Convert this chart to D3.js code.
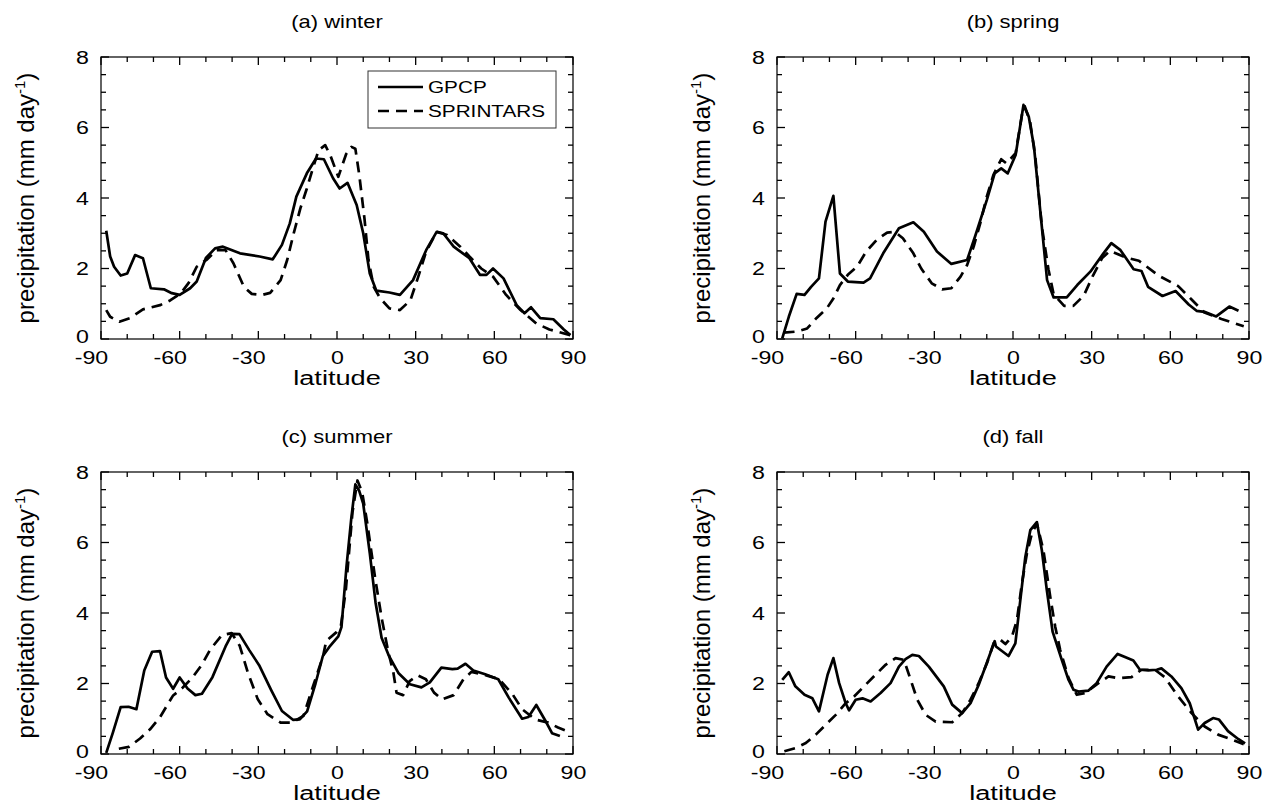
<!DOCTYPE html>
<html><head><meta charset="utf-8">
<script src="https://cdn.jsdelivr.net/npm/d3@7"></script>
<style>body{margin:0;background:#fff}svg{display:block}text{font-family:"Liberation Sans",Arial,Helvetica,sans-serif;fill:#000}</style>
</head><body><svg id="c" width="1275" height="803"></svg>
<script>
// ---------------- data (latitude, mm/day) ----------------
const xTicks = [-90,-60,-30,0,30,60,90];
const yTicks = [0,2,4,6,8];
const panelTitles = ["(a) winter","(b) spring","(c) summer","(d) fall"];
const seriesNames = ["GPCP","SPRINTARS"];

const winterGpcpLat = [-88,-86.5,-85,-82.5,-80,-77,-74,-71,-66,-63,-60,-56,-53.5,-50,-46.5,-43.5,-37,-29.5,-24.5,-21,-18,-15.5,-11.5,-8,-5,-1.5,1,4,7.5,10,12.5,15,20,24,29,34,38,40.5,44.5,50.5,54.5,57,59.5,63.5,68.5,71.5,74,77.5,82.5,86.5,89];
const winterGpcp    = [3.07,2.34,2.05,1.8,1.86,2.38,2.29,1.44,1.41,1.3,1.25,1.44,1.63,2.3,2.57,2.62,2.43,2.34,2.26,2.67,3.28,4.04,4.7,5.12,5.1,4.56,4.27,4.43,3.8,3.0,1.86,1.37,1.32,1.25,1.67,2.52,3.04,3.0,2.62,2.29,1.82,1.82,2.0,1.72,0.96,0.73,0.9,0.59,0.56,0.27,0.11];
const winterSprLat  = [-88,-86.5,-83,-79,-74,-67.5,-63.5,-59.5,-56.5,-53.5,-49.5,-46,-42.5,-39.5,-35.5,-32.5,-28.5,-25.5,-21.5,-19,-16.5,-14,-11.5,-9,-7,-4.5,-2.5,0.5,3.5,5.5,7,8.5,10.5,12,14,16.5,20,24,28,31,34,38,42,47,50.5,55,59.5,64.5,70,76,81,89];
const winterSpr     = [0.82,0.63,0.49,0.59,0.84,0.96,1.1,1.3,1.6,2.05,2.26,2.52,2.52,2.15,1.48,1.28,1.25,1.31,1.67,2.24,3.0,3.7,4.27,4.89,5.36,5.5,5.2,4.6,5.25,5.45,5.4,4.65,3.4,2.24,1.48,1.15,0.87,0.82,1.1,1.77,2.48,3.04,2.95,2.62,2.34,2.0,1.77,1.25,0.82,0.44,0.27,0.11];

const springGpcpLat = [-88,-85.5,-82.5,-79.5,-77,-74,-71.5,-68.5,-66,-63,-57,-54.5,-49.5,-43.5,-38,-34,-29,-23.5,-17.5,-14.5,-10,-7,-4.5,-2,1,2.5,4,6,8,10.5,13,15.5,20.5,24.5,29.5,34.5,37.5,41,46,49,51.5,57,62,67,70,73,77.5,82.5,86];
const springGpcp    = [0.02,0.63,1.28,1.25,1.48,1.72,3.33,4.06,1.86,1.63,1.6,1.72,2.43,3.14,3.31,3.04,2.48,2.13,2.24,2.9,3.94,4.7,4.84,4.7,5.22,5.93,6.64,6.31,5.46,3.56,1.67,1.18,1.18,1.53,1.91,2.43,2.72,2.52,1.98,1.93,1.48,1.22,1.36,0.98,0.8,0.77,0.64,0.92,0.8];
const springSprLat  = [-87.5,-82.5,-78.5,-75,-71,-68.5,-66,-63,-59.5,-56,-52,-48,-45,-42,-38,-35,-31,-27,-23.5,-20,-17.5,-15,-12.5,-10,-7.5,-4.5,-2.5,1,3.5,4.5,6.5,8.5,11,13.5,15.5,19.5,23,27,30.5,34,37,43,48,55.5,63,68,73,79.5,88];
const springSpr     = [0.18,0.21,0.3,0.59,0.87,1.15,1.53,1.82,2.05,2.48,2.81,3.02,3.04,2.86,2.43,2.0,1.58,1.41,1.44,1.77,2.1,2.62,3.28,4.04,4.65,5.1,4.98,5.27,6.4,6.6,6.17,5.17,3.19,1.98,1.27,0.94,0.94,1.23,1.8,2.3,2.5,2.31,2.22,1.8,1.5,1.13,0.75,0.57,0.36];

const summerGpcpLat = [-88,-85.5,-82.5,-79.5,-76.5,-73.5,-70.5,-67.5,-65.2,-62.5,-60,-57,-54,-51.5,-47.5,-42.5,-40,-37.2,-33.4,-29.7,-25,-21,-16.8,-14.2,-11.4,-8.2,-5.4,-3,0.5,1.7,3.6,5.4,7,8.5,10,12.5,14.7,17,19.7,23.4,27.8,32.2,35.4,39.8,44,46,49,52,56.5,61.5,65.5,70.6,73,76,79.2,82,85];
const summerGpcp    = [0.03,0.6,1.33,1.34,1.27,2.37,2.9,2.92,2.17,1.85,2.17,1.86,1.67,1.71,2.18,3.05,3.41,3.4,2.94,2.52,1.8,1.22,0.97,0.98,1.21,2.0,2.78,3.03,3.34,3.6,5.3,6.65,7.65,7.46,7.1,5.7,4.3,3.3,2.8,2.3,1.98,1.89,2.03,2.45,2.41,2.42,2.56,2.37,2.26,2.12,1.6,1.0,1.05,1.39,0.98,0.59,0.51];
const summerSprLat  = [-83.2,-79.4,-75.1,-71.3,-67.6,-62.6,-58.9,-55.1,-51.4,-48.3,-43.9,-40.2,-37.1,-34,-30.2,-26.5,-21.5,-17.1,-12.8,-9.1,-5.3,-4.1,-0.3,1.5,3.4,5.9,7.8,9.6,11.5,14.6,17.1,19.6,21.5,22.7,25.2,27.7,30.8,33.9,37,40.1,44.5,48.2,51.3,57,61.9,66.9,70.6,75.6,80.6,84.3,88];
const summerSpr     = [0.15,0.2,0.44,0.7,1.03,1.65,1.88,2.17,2.55,2.97,3.37,3.43,3.07,2.31,1.55,1.13,0.89,0.89,1.08,1.93,2.78,3.21,3.45,3.64,4.68,6.86,7.76,7.42,6.57,4.96,3.83,2.88,2.31,1.74,1.67,2.07,2.23,2.12,1.74,1.55,1.67,2.12,2.33,2.23,2.12,1.7,1.27,0.98,0.89,0.75,0.64];

const fallGpcpLat   = [-88,-85.5,-83,-79.5,-76.5,-74,-70.7,-68.5,-66.3,-63.8,-62.5,-60,-57.4,-54.3,-50.5,-46.7,-43.5,-41,-38.4,-35.9,-32.1,-26.4,-23.2,-19.4,-16.2,-13.1,-10.5,-7,-6.5,-1.7,0.9,2.8,4.7,6.6,9.1,11,12.9,15.1,18.6,21.2,23.1,25,28.8,31.9,35.7,39.9,42.7,45.9,48.4,51.6,54.8,56.6,60.4,64.2,67.4,70.6,73.1,76.3,78.5,82,86,88.5];
const fallGpcp      = [2.1,2.32,1.92,1.68,1.58,1.21,2.25,2.72,2.01,1.44,1.24,1.54,1.58,1.49,1.73,2.01,2.48,2.69,2.81,2.78,2.48,1.92,1.4,1.16,1.44,1.96,2.48,3.2,3.05,2.78,3.14,4.37,5.59,6.35,6.58,5.78,4.65,3.47,2.67,2.1,1.82,1.77,1.8,2.01,2.48,2.84,2.75,2.65,2.39,2.37,2.39,2.43,2.2,1.87,1.44,0.69,0.88,1.02,0.98,0.65,0.42,0.3];
const fallSprLat    = [-87.2,-82.8,-79,-75.2,-71.4,-67.6,-63.8,-60.6,-56.8,-52.4,-48.6,-44.8,-41.6,-39,-36.5,-33.3,-29.5,-23.2,-19.4,-16.2,-13.1,-9.9,-7.4,-4.8,-2.9,-0.4,1.5,3.4,5.3,7.2,9.1,11.6,14.2,16.1,18,21.2,24.3,27.5,32.6,36.4,40.2,45.2,49,54.1,57.9,63,68.1,73.1,78.2,82,88];
const fallSpr       = [0.08,0.17,0.31,0.55,0.83,1.11,1.44,1.63,1.92,2.25,2.53,2.72,2.67,2.1,1.54,1.11,0.92,0.9,1.16,1.54,2.01,2.58,3.14,3.24,3.12,3.33,3.8,4.84,5.69,6.25,6.54,5.78,4.46,3.61,2.95,2.15,1.68,1.73,2.01,2.2,2.15,2.18,2.39,2.39,2.18,1.63,1.16,0.78,0.55,0.45,0.28];

// ---------------- drawing ----------------
const SX = 1.22; // horizontal glyph stretch of the original typesetting
const svg = d3.select("#c");
const W = 472, H = 282;
const panels = [
  {x:101, y:57,  t:panelTitles[0], g:[winterGpcpLat,winterGpcp], s:[winterSprLat,winterSpr], legend:true},
  {x:777, y:57,  t:panelTitles[1], g:[springGpcpLat,springGpcp], s:[springSprLat,springSpr]},
  {x:101, y:472, t:panelTitles[2], g:[summerGpcpLat,summerGpcp], s:[summerSprLat,summerSpr]},
  {x:777, y:472, t:panelTitles[3], g:[fallGpcpLat,fallGpcp], s:[fallSprLat,fallSpr]}
];

function label(parent, x, y, str, size, anchor, sx) {
  return parent.append("text")
    .attr("transform", `translate(${x},${y}) scale(${sx || SX},1)`)
    .attr("text-anchor", anchor || "start")
    .attr("font-size", size)
    .text(str);
}

panels.forEach(p => {
  const g = svg.append("g").attr("transform", `translate(${p.x},${p.y})`);
  const x = d3.scaleLinear().domain([-90,90]).range([0,W]);
  const y = d3.scaleLinear().domain([0,8]).range([H,0]);

  // frame
  g.append("rect").attr("width",W).attr("height",H).attr("fill","none").attr("stroke","#111").attr("stroke-width",1.3);

  // inward ticks on all four sides
  d3.range(-90,91,10).forEach(v => {
    const L = (v % 30 === 0) ? 8 : 5;
    g.append("line").attr("x1",x(v)).attr("x2",x(v)).attr("y1",H).attr("y2",H-L).attr("stroke","#000").attr("stroke-width",1.3);
    g.append("line").attr("x1",x(v)).attr("x2",x(v)).attr("y1",0).attr("y2",L).attr("stroke","#000").attr("stroke-width",1.3);
  });
  d3.range(0,8.01,0.5).forEach(v => {
    const L = (v % 2 === 0) ? 8 : 5;
    g.append("line").attr("y1",y(v)).attr("y2",y(v)).attr("x1",0).attr("x2",L).attr("stroke","#000").attr("stroke-width",1.3);
    g.append("line").attr("y1",y(v)).attr("y2",y(v)).attr("x1",W).attr("x2",W-L).attr("stroke","#000").attr("stroke-width",1.3);
  });

  // tick labels through d3 axes
  const xa = g.append("g").attr("transform",`translate(0,${H})`)
    .call(d3.axisBottom(x).tickValues(xTicks).tickSize(0).tickPadding(12).tickFormat(d => String(d)));
  xa.select(".domain").remove();
  xa.selectAll("text").attr("font-size",19).attr("font-family",'"Liberation Sans",Arial,sans-serif').attr("fill","#000")
    .attr("x", d => d < 0 ? -10/SX : 0).attr("transform",`scale(${SX},1)`);
  const ya = g.append("g")
    .call(d3.axisLeft(y).tickValues(yTicks).tickSize(0).tickPadding(12).tickFormat(d => String(d)));
  ya.select(".domain").remove();
  ya.selectAll("text").attr("font-size",19).attr("font-family",'"Liberation Sans",Arial,sans-serif').attr("fill","#000")
    .attr("x", -12/SX).attr("dy", d => d === 0 ? "0.18em" : "0.32em").attr("transform",`scale(${SX},1)`);

  // title & axis titles
  label(g, W/2, -29, p.t, 18, "middle");
  label(g, W/2, H+46, "latitude", 20, "middle", 1.36);
  const yl = g.append("text").attr("transform",`translate(-67,${H/2}) rotate(-90)`).attr("text-anchor","middle").attr("font-size",24);
  yl.append("tspan").text("precipitation (mm day");
  yl.append("tspan").attr("dy",-9).attr("font-size",15).text("-1");
  yl.append("tspan").attr("dy",9).text(")");

  const line = d3.line().x(d => x(d[0])).y(d => y(d[1]));
  g.append("path").datum(d3.zip(p.s[0], p.s[1])).attr("d",line).attr("fill","none").attr("stroke","#000")
    .attr("stroke-width",2.7).attr("stroke-dasharray","11,7").attr("stroke-linejoin","round");
  g.append("path").datum(d3.zip(p.g[0], p.g[1])).attr("d",line).attr("fill","none").attr("stroke","#000")
    .attr("stroke-width",2.7).attr("stroke-linejoin","round");

  if (p.legend) {
    const lg = g.append("g").attr("transform",`translate(${W-205},14)`);
    lg.append("rect").attr("width",188).attr("height",57).attr("fill","#fff").attr("stroke","#333").attr("stroke-width",1);
    lg.append("line").attr("x1",10).attr("x2",55).attr("y1",16).attr("y2",16).attr("stroke","#000").attr("stroke-width",2.7);
    lg.append("line").attr("x1",10).attr("x2",55).attr("y1",40).attr("y2",40).attr("stroke","#000").attr("stroke-width",2.7).attr("stroke-dasharray","11,7");
    label(lg, 60, 22, seriesNames[0], 17);
    label(lg, 60, 46, seriesNames[1], 17);
  }
});
</script></body></html>
